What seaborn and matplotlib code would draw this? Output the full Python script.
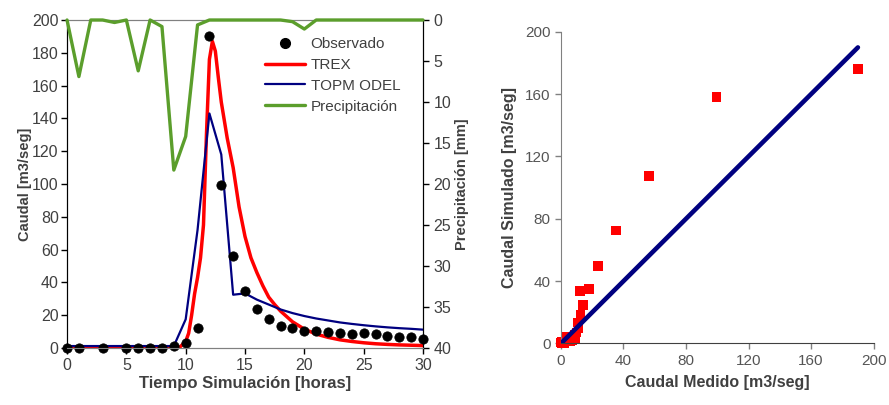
import matplotlib
matplotlib.use("Agg")
import matplotlib.pyplot as plt
import seaborn as sns
from matplotlib.lines import Line2D

# --- datos ---
t_obs = [0, 1, 3, 5, 6, 7, 8, 9, 10, 11, 12, 13, 14, 15, 16, 17, 18, 19, 20,
         21, 22, 23, 24, 25, 26, 27, 28, 29, 30]
q_obs = [0, 0, 0, 0, 0, 0, 0, 1.2, 2.9, 12, 190, 99.5, 56, 35, 23.6, 17.7, 13.4,
         12.4, 10.2, 10.6, 10, 9.1, 8.3, 9.3, 8.3, 7.3, 7, 6.5, 5.7]

t_trex = [0, 9, 9.5, 10, 10.25, 10.5, 10.75, 11, 11.25, 11.5, 11.75, 12, 12.25,
          12.5, 12.75, 13, 13.5, 14, 14.5, 15, 15.5, 16, 16.5, 17, 17.5, 18, 19,
          20, 21, 22, 23, 24, 25, 26, 27, 28, 29, 30]
q_trex = [0, 0, 0.5, 4, 9, 20, 33, 43, 55, 75, 130, 176, 187, 181, 165, 150, 128,
          110, 86, 68, 55, 46, 38, 31, 26.5, 22.5, 16, 11.5, 8.5, 6.5, 5, 4, 3.2,
          2.6, 2.2, 1.9, 1.7, 1.5]

t_topm = [0, 9, 10, 11, 12, 13, 14, 15, 16, 17, 18, 19, 20, 21, 22, 23, 24, 25,
          26, 27, 28, 29, 30]
q_topm = [1.2, 1.2, 17.5, 72, 143, 118, 32.5, 33.3, 29.5, 26.5, 23.5, 21.3, 19.5,
          18, 16.8, 15.6, 14.7, 13.9, 13.2, 12.6, 12.1, 11.7, 11.2]

t_prec = list(range(31))
prec = [0, 6.9, 0, 0, 0.3, 0, 6.2, 0, 0.8, 18.3, 14.2, 0.6, 0, 0, 0, 0, 0, 0, 0,
        0.2, 1.1, 0, 0, 0, 0, 0, 0, 0, 0, 0, 0]

medido = [190, 99.5, 56.5, 35.2, 23.8, 18, 12, 14, 12.4, 10.6, 11.2, 10, 9, 8.3,
          9.3, 7.3, 7, 6.5, 5.7, 3, 1.2, 0.3, 0, 0.6, 2]
simulado = [176, 158, 107.5, 72.5, 49.8, 34.8, 33.6, 24.6, 18.2, 13.4, 9.6, 7, 5.3,
            4, 3.3, 2.5, 2.1, 1.8, 1.5, 4, 0.5, 0, 0.5, 1, 0]
linea_11 = [0, 190]

GRIS = "#404040"
VERDE = "#5b9e2c"
AZUL = "#000080"

sns.set_style("ticks")
plt.rcParams["font.family"] = ["Liberation Sans", "DejaVu Sans"]
plt.rcParams["font.size"] = 10.5

fig = plt.figure(figsize=(8.89, 4.05), dpi=100)
ax = fig.add_axes([0.0754, 0.1407, 0.4004, 0.8099])
ax2 = ax.twinx()

sns.lineplot(x=t_trex, y=q_trex, ax=ax, color="red", linewidth=2.5, zorder=3)
sns.lineplot(x=t_topm, y=q_topm, ax=ax, color=AZUL, linewidth=1.6, zorder=3)
sns.scatterplot(x=t_obs, y=q_obs, ax=ax, color="black", s=45, edgecolor="black",
                zorder=5, clip_on=False)
sns.lineplot(x=t_prec, y=prec, ax=ax2, color=VERDE, linewidth=2.4, zorder=4,
             clip_on=False)

ax.set_xlim(0, 30)
ax.set_ylim(0, 200)
ax.set_xticks(range(0, 31, 5))
ax.set_yticks(range(0, 201, 20))
ax2.set_ylim(40, 0)
ax2.set_yticks(range(0, 41, 5))

ax.set_xlabel("Tiempo Simulación [horas]", fontweight="bold", color=GRIS,
              fontsize=12, labelpad=2)
ax.set_ylabel("Caudal [m3/seg]", fontweight="bold", color=GRIS, labelpad=0)
ax2.set_ylabel("Precipitación [mm]", fontweight="bold", color=GRIS, labelpad=3)

for a in (ax, ax2):
    a.tick_params(colors=GRIS, labelsize=11.5, length=4, width=1)
    a.spines["top"].set_color("#808080")
    a.spines["bottom"].set_color("#808080")
    a.spines["left"].set_color("black")
    a.spines["right"].set_color("black")
    a.tick_params(axis="both", color="black")
    a.set_zorder(1)
ax.tick_params(axis="y", pad=2)
ax2.set_zorder(2)
ax2.patch.set_visible(False)

handles = [
    Line2D([], [], marker="o", color="black", linestyle="none", markersize=7),
    Line2D([], [], color="red", linewidth=2.5),
    Line2D([], [], color=AZUL, linewidth=1.6),
    Line2D([], [], color=VERDE, linewidth=2.4),
]
leg = ax2.legend(handles, ["Observado", "TREX", "TOPM ODEL", "Precipitación"],
                 loc="upper right", bbox_to_anchor=(0.975, 0.99), frameon=False,
                 fontsize=11, handlelength=2.6, labelspacing=0.45, handletextpad=0.4)
for txt in leg.get_texts():
    txt.set_color(GRIS)

# --- dispersion ---
bx = fig.add_axes([0.631, 0.152, 0.3516, 0.7694])
sns.lineplot(x=linea_11, y=linea_11, ax=bx, color=AZUL, linewidth=3.3, zorder=3)
sns.scatterplot(x=medido, y=simulado, ax=bx, color="red", marker="s", s=48,
                edgecolor="none", zorder=2, clip_on=False)
bx.set_xlim(0, 200)
bx.set_ylim(0, 200)
bx.set_xticks(range(0, 201, 40))
bx.set_yticks(range(0, 201, 40))
bx.set_xlabel("Caudal Medido [m3/seg]", fontweight="bold", color=GRIS,
              fontsize=11.5, labelpad=5)
bx.set_ylabel("Caudal Simulado [m3/seg]", fontweight="bold", color=GRIS,
              fontsize=11.5, labelpad=6)
bx.tick_params(colors="#555555", labelsize=11, length=4, width=1, color="#808080")
sns.despine(ax=bx)
bx.spines["left"].set_color("#808080")
bx.spines["bottom"].set_color("#404040")

fig.savefig("out.png", dpi=100)
